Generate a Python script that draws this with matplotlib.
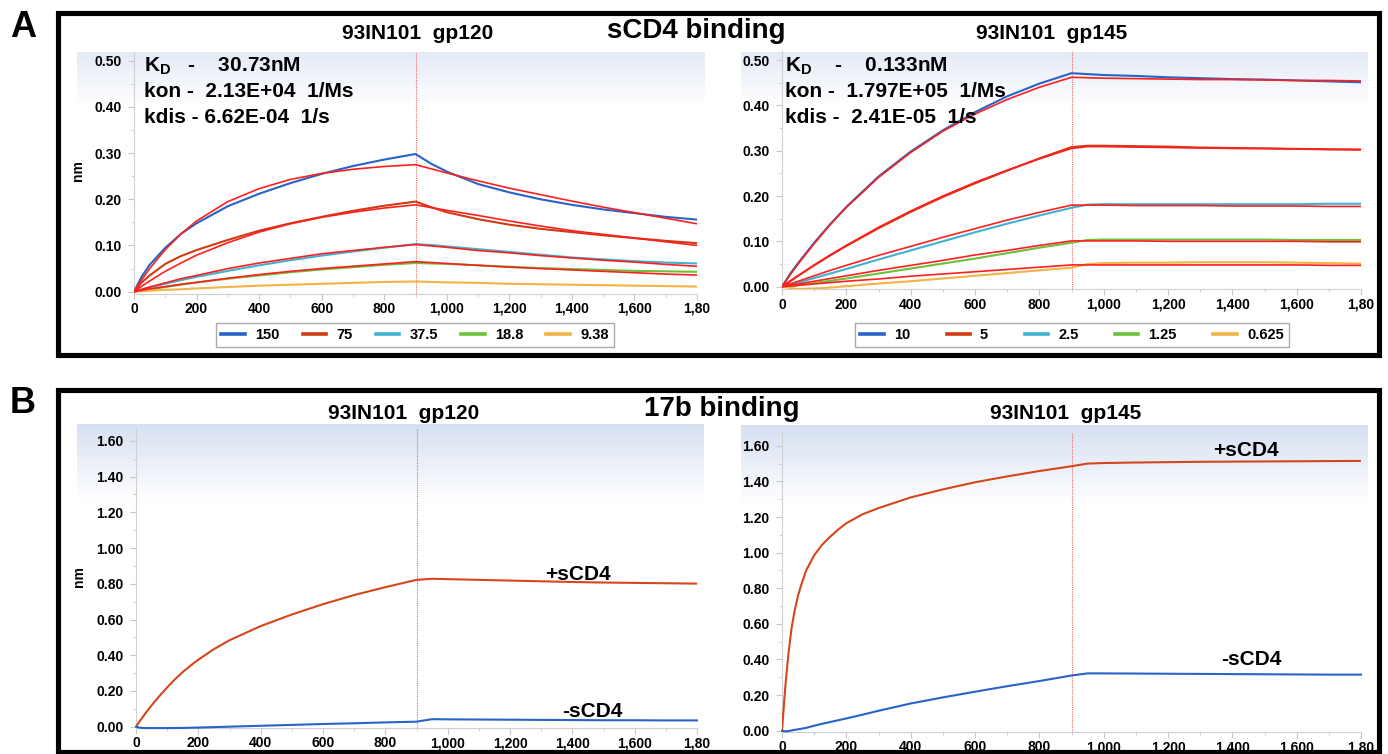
import numpy as np
import matplotlib
import matplotlib.pyplot as plt
from matplotlib.patches import Rectangle

W, H = 1388, 754

plt.rcParams['font.family'] = ['Liberation Sans', 'DejaVu Sans']
plt.rcParams['font.weight'] = 'bold'
plt.rcParams['axes.labelweight'] = 'bold'
plt.rcParams['mathtext.fontset'] = 'custom'
plt.rcParams['mathtext.rm'] = 'Liberation Sans:bold'
plt.rcParams['mathtext.bf'] = 'Liberation Sans:bold'

# ---- data ----

# time points, s
t = [0, 25, 50, 100, 150, 200, 300, 400, 500, 600, 700, 800, 900,
     950, 1000, 1100, 1200, 1300, 1400, 1500, 1600, 1700, 1800]
t_fast = [0, 5, 10, 15, 20, 30, 40, 50, 60, 75, 100, 125, 150, 175, 200, 250, 300, 400, 500, 600, 700,
          800, 900, 950, 1000, 1100, 1200, 1300, 1400, 1500, 1600, 1700, 1800]

xtick_values = [0, 200, 400, 600, 800, 1000, 1200, 1400, 1600, 1800]
xtick_labels = ['0', '200', '400', '600', '800', '1,000', '1,200', '1,400', '1,600', '1,80']
ytick_top = [0.0, 0.1, 0.2, 0.3, 0.4, 0.5]
ytick_top_labels = ['0.00', '0.10', '0.20', '0.30', '0.40', '0.50']
ytick_bottom = [0.0, 0.2, 0.4, 0.6, 0.8, 1.0, 1.2, 1.4, 1.6]
ytick_bottom_labels = ['0.00', '0.20', '0.40', '0.60', '0.80', '1.00', '1.20', '1.40', '1.60']

# A: sCD4 binding to gp120, concentrations nM
gp120_conc = ['150', '75', '37.5', '18.8', '9.38']
gp120_150 = [0, 0.033, 0.058, 0.095, 0.125, 0.148, 0.185, 0.212, 0.235, 0.255, 0.272, 0.286, 0.298,
             0.277, 0.260, 0.233, 0.215, 0.200, 0.188, 0.178, 0.170, 0.162, 0.156]
gp120_75 = [0, 0.020, 0.035, 0.060, 0.077, 0.090, 0.112, 0.132, 0.148, 0.162, 0.175, 0.186, 0.195,
            0.183, 0.172, 0.157, 0.145, 0.136, 0.129, 0.122, 0.116, 0.110, 0.105]
gp120_37 = [0, 0.005, 0.009, 0.017, 0.025, 0.032, 0.045, 0.057, 0.068, 0.078, 0.087, 0.095, 0.103,
            0.101, 0.098, 0.092, 0.086, 0.080, 0.074, 0.070, 0.066, 0.063, 0.061]
gp120_18 = [0, 0.003, 0.005, 0.010, 0.015, 0.020, 0.028, 0.035, 0.042, 0.048, 0.053, 0.058, 0.062,
            0.061, 0.060, 0.057, 0.054, 0.051, 0.049, 0.047, 0.045, 0.044, 0.043]
gp120_9 = [0, 0.001, 0.002, 0.004, 0.005, 0.007, 0.010, 0.013, 0.015, 0.017, 0.019, 0.021, 0.022,
           0.021, 0.020, 0.019, 0.017, 0.016, 0.015, 0.014, 0.013, 0.012, 0.011]
gp120_fit_150 = [0, 0.026, 0.050, 0.091, 0.125, 0.153, 0.195, 0.223, 0.243, 0.256, 0.265, 0.271, 0.275,
                 0.266, 0.257, 0.240, 0.224, 0.210, 0.196, 0.183, 0.171, 0.159, 0.147]
gp120_fit_75 = [0, 0.012, 0.023, 0.044, 0.062, 0.079, 0.106, 0.129, 0.147, 0.161, 0.172, 0.181, 0.188,
                0.182, 0.176, 0.165, 0.153, 0.142, 0.132, 0.124, 0.116, 0.108, 0.100]
gp120_fit_37 = [0, 0.005, 0.010, 0.019, 0.028, 0.035, 0.050, 0.062, 0.072, 0.082, 0.089, 0.096, 0.102,
                0.099, 0.096, 0.089, 0.084, 0.078, 0.073, 0.068, 0.064, 0.059, 0.055]
gp120_fit_18 = [0, 0.003, 0.006, 0.011, 0.016, 0.020, 0.029, 0.037, 0.044, 0.050, 0.055, 0.060, 0.065,
                0.063, 0.061, 0.057, 0.053, 0.050, 0.047, 0.044, 0.041, 0.038, 0.036]

# A: sCD4 binding to gp145
gp145_conc = ['10', '5', '2.5', '1.25', '0.625']
gp145_10 = [0, 0.028, 0.052, 0.097, 0.138, 0.176, 0.243, 0.298, 0.345, 0.385, 0.420, 0.448, 0.471,
            0.469, 0.467, 0.465, 0.462, 0.460, 0.458, 0.457, 0.455, 0.453, 0.451]
gp145_5 = [0, 0.012, 0.024, 0.047, 0.069, 0.090, 0.129, 0.165, 0.198, 0.228, 0.256, 0.283, 0.308,
           0.311, 0.311, 0.310, 0.309, 0.307, 0.306, 0.305, 0.304, 0.303, 0.302]
gp145_2 = [0, 0.004, 0.009, 0.019, 0.029, 0.039, 0.060, 0.080, 0.100, 0.120, 0.139, 0.157, 0.174,
           0.181, 0.182, 0.182, 0.182, 0.182, 0.182, 0.182, 0.182, 0.183, 0.183]
gp145_1 = [0, 0.001, 0.003, 0.008, 0.013, 0.018, 0.029, 0.040, 0.051, 0.062, 0.074, 0.086, 0.097,
           0.103, 0.104, 0.104, 0.104, 0.104, 0.104, 0.104, 0.103, 0.103, 0.103]
gp145_06 = [0, -0.003, -0.005, -0.004, -0.002, 0.001, 0.007, 0.012, 0.018, 0.024, 0.030, 0.036, 0.042,
            0.050, 0.052, 0.053, 0.053, 0.054, 0.054, 0.054, 0.053, 0.052, 0.051]
gp145_fit_10 = [0, 0.026, 0.050, 0.095, 0.137, 0.175, 0.241, 0.296, 0.343, 0.381, 0.413, 0.440, 0.462,
                0.461, 0.460, 0.459, 0.458, 0.457, 0.457, 0.456, 0.455, 0.455, 0.454]
gp145_fit_5 = [0, 0.012, 0.024, 0.048, 0.070, 0.091, 0.131, 0.167, 0.200, 0.230, 0.257, 0.282, 0.305,
               0.309, 0.309, 0.308, 0.307, 0.306, 0.305, 0.305, 0.304, 0.303, 0.303]
gp145_fit_2 = [0, 0.006, 0.012, 0.024, 0.036, 0.047, 0.069, 0.089, 0.109, 0.128, 0.147, 0.164, 0.180,
               0.180, 0.180, 0.179, 0.179, 0.179, 0.178, 0.178, 0.178, 0.177, 0.177]
gp145_fit_1 = [0, 0.003, 0.006, 0.012, 0.018, 0.024, 0.036, 0.047, 0.058, 0.070, 0.080, 0.091, 0.101,
               0.101, 0.101, 0.101, 0.100, 0.100, 0.100, 0.100, 0.100, 0.099, 0.099]
gp145_fit_06 = [0, 0.0015, 0.003, 0.006, 0.009, 0.012, 0.017, 0.023, 0.028, 0.033, 0.038, 0.043, 0.048,
                0.048, 0.048, 0.048, 0.048, 0.048, 0.048, 0.048, 0.048, 0.047, 0.047]

# B: 17b binding with / without sCD4 (on t_fast)
gp120_plus = [0, 0.013, 0.026, 0.038, 0.050, 0.074, 0.097, 0.119, 0.140, 0.171, 0.220, 0.265, 0.306,
              0.342, 0.375, 0.434, 0.484, 0.563, 0.628, 0.686, 0.737, 0.781, 0.822,
              0.828, 0.826, 0.822, 0.818, 0.814, 0.810, 0.807, 0.805, 0.803, 0.801]
gp120_minus = [0, -0.003, -0.005, -0.006, -0.007, -0.008, -0.008, -0.008, -0.008, -0.008, -0.008, -0.0075,
               -0.007, -0.006, -0.005, -0.0025, 0.000, 0.005, 0.010, 0.015, 0.019, 0.024, 0.028,
               0.042, 0.041, 0.040, 0.039, 0.038, 0.037, 0.036, 0.036, 0.035, 0.035]
gp145_plus = [0, 0.12, 0.24, 0.34, 0.43, 0.58, 0.68, 0.76, 0.82, 0.90, 0.985, 1.045, 1.09, 1.13, 1.165,
              1.215, 1.25, 1.31, 1.355, 1.395, 1.428, 1.458, 1.485,
              1.500, 1.503, 1.506, 1.508, 1.510, 1.511, 1.512, 1.513, 1.514, 1.515]
gp145_minus = [0, -0.002, -0.003, -0.003, -0.002, 0.002, 0.005, 0.008, 0.011, 0.016, 0.028, 0.039, 0.049,
               0.059, 0.069, 0.090, 0.112, 0.153, 0.187, 0.219, 0.250, 0.279, 0.310,
               0.322, 0.322, 0.321, 0.320, 0.319, 0.318, 0.317, 0.316, 0.315, 0.315]

# colours
c_blue = '#2763c8'
c_red = '#cf3b12'
c_cyan = '#3fb2d2'
c_green = '#6cc13a'
c_orange = '#f2b347'
c_fit = '#ff1f1f'
c_plus = '#d5461b'

fig = plt.figure(figsize=(W / 100, H / 100), dpi=100)


def fx(x):
    return x / W


def fy(y):
    return 1 - y / H


def px_rect(l, t_, r, b):
    return [l / W, 1 - b / H, (r - l) / W, (b - t_) / H]


def gradient_bg(l, t_, r, b, top_color, fade):
    bg = fig.add_axes(px_rect(l, t_, r, b), zorder=0)
    bg.set_axis_off()
    s = np.clip(np.linspace(0, 1, 300) / fade, 0, 1)
    c0 = np.array(matplotlib.colors.to_rgb(top_color))
    img = c0[None, :] * (1 - s[:, None]) + s[:, None]
    bg.imshow(img[:, None, :], aspect='auto', extent=(0, 1, 0, 1), origin='upper')


def make_axes(rect, ylim, yticks, yticklabels, yminor):
    ax = fig.add_axes(rect, zorder=2)
    ax.patch.set_alpha(0)
    ax.set_xlim(0, 1800)
    ax.set_ylim(*ylim)
    ax.set_xticks(xtick_values)
    ax.set_xticklabels(xtick_labels)
    ax.set_xticks(np.arange(100, 1800, 200), minor=True)
    ax.set_yticks(yticks)
    ax.set_yticklabels(yticklabels)
    ax.set_yticks(yminor, minor=True)
    for s in ['top', 'right']:
        ax.spines[s].set_visible(False)
    for s in ['left', 'bottom']:
        ax.spines[s].set_color('#d0d0d0')
    ax.tick_params(which='both', colors='#c8c8c8', labelcolor='black', labelsize=10)
    ax.tick_params(axis='x', which='major', length=4, pad=2)
    ax.tick_params(axis='y', which='major', length=4, pad=5)
    ax.tick_params(which='minor', length=2)
    ax.axvline(900, color='#e86a6a', lw=0.8, ls=(0, (1, 1)), zorder=1)
    return ax


# ---- panel frames and letters ----
fig.patches.append(Rectangle((fx(57.5), fy(355.5)), fx(1379) - fx(57.5), fy(12.5) - fy(355.5),
                             transform=fig.transFigure, fill=False, lw=3.7, ec='black'))
fig.patches.append(Rectangle((fx(57.5), fy(752)), fx(1379) - fx(57.5), fy(389.5) - fy(752),
                             transform=fig.transFigure, fill=False, lw=3.7, ec='black'))
fig.text(fx(10), fy(37), 'A', fontsize=26, ha='left', va='baseline')
fig.text(fx(10), fy(413), 'B', fontsize=26, ha='left', va='baseline')

# ---- backgrounds ----
gradient_bg(77, 52, 705, 300, '#e3eaf5', 0.22)
gradient_bg(741, 52, 1368, 300, '#e3eaf5', 0.22)
gradient_bg(77, 424, 704, 735, '#d6e0f1', 0.25)
gradient_bg(741, 425, 1368, 738, '#d6e0f1', 0.25)

# ---- A left: gp120 ----
ax1 = make_axes(px_rect(134, 51.5, 697, 293.5), (-0.004, 0.52), ytick_top, ytick_top_labels,
                np.arange(0.05, 0.5, 0.1))
for y, c, lab in zip([gp120_150, gp120_75, gp120_37, gp120_18, gp120_9],
                     [c_blue, c_red, c_cyan, c_green, c_orange], gp120_conc):
    ax1.plot(t, y, color=c, lw=1.5, label=lab, zorder=3)
for y in [gp120_fit_150, gp120_fit_75, gp120_fit_37, gp120_fit_18]:
    ax1.plot(t, y, color=c_fit, lw=1.2, zorder=4)
ax1.set_ylabel('nm', fontsize=10)
ax1.yaxis.set_label_coords(fx(85), fy(171), transform=fig.transFigure)
leg1 = ax1.legend(ncol=5, loc='center', bbox_to_anchor=(fx(415), fy(335)), bbox_transform=fig.transFigure,
                  fancybox=False, edgecolor='#aaaaaa', fontsize=10.5, handlelength=1.6,
                  handletextpad=0.7, columnspacing=1.6, borderpad=0.35, framealpha=1)
for h in leg1.get_lines():
    h.set_linewidth(2.6)

# ---- A right: gp145 ----
ax2 = make_axes(px_rect(782, 51, 1361, 289.4), (-0.006, 0.52), ytick_top, ytick_top_labels,
                np.arange(0.05, 0.5, 0.1))
for y, c, lab in zip([gp145_10, gp145_5, gp145_2, gp145_1, gp145_06],
                     [c_blue, c_red, c_cyan, c_green, c_orange], gp145_conc):
    ax2.plot(t, y, color=c, lw=1.5, label=lab, zorder=3)
for y in [gp145_fit_10, gp145_fit_5, gp145_fit_2, gp145_fit_1, gp145_fit_06]:
    ax2.plot(t, y, color=c_fit, lw=1.2, zorder=4)
leg2 = ax2.legend(ncol=5, loc='center', bbox_to_anchor=(fx(1072), fy(335)), bbox_transform=fig.transFigure,
                  fancybox=False, edgecolor='#aaaaaa', fontsize=10.5, handlelength=1.6,
                  handletextpad=0.7, columnspacing=2.5, borderpad=0.35, framealpha=1)
for h in leg2.get_lines():
    h.set_linewidth(2.6)

# kinetic constants
fig.text(fx(144), fy(71), r'K$_\mathbf{D}$   -    30.73nM', fontsize=15, va='baseline')
fig.text(fx(144), fy(97), 'kon -  2.13E+04  1/Ms', fontsize=15, va='baseline')
fig.text(fx(144), fy(123), 'kdis - 6.62E-04  1/s', fontsize=15, va='baseline')
fig.text(fx(785), fy(71), r'K$_\mathbf{D}$    -    0.133nM', fontsize=15, va='baseline')
fig.text(fx(785), fy(97), 'kon -  1.797E+05  1/Ms', fontsize=15, va='baseline')
fig.text(fx(785), fy(123), 'kdis -  2.41E-05  1/s', fontsize=15, va='baseline')

fig.text(fx(418), fy(39), '93IN101  gp120', fontsize=15, ha='center', va='baseline')
fig.text(fx(1052), fy(39), '93IN101  gp145', fontsize=15, ha='center', va='baseline')
fig.text(fx(696), fy(38), 'sCD4 binding', fontsize=20, ha='center', va='baseline')

# ---- B left: gp120 17b ----
ax3 = make_axes(px_rect(136, 428.4, 697, 728.1), (-0.008, 1.67), ytick_bottom, ytick_bottom_labels,
                np.arange(0.1, 1.7, 0.2))
ax3.plot(t_fast, gp120_plus, color=c_plus, lw=1.5, zorder=3)
ax3.plot(t_fast, gp120_minus, color=c_blue, lw=1.5, zorder=3, clip_on=False)
ax3.set_ylabel('nm', fontsize=10)
ax3.yaxis.set_label_coords(fx(86), fy(577), transform=fig.transFigure)
fig.text(fx(578), fy(580), '+sCD4', fontsize=15, ha='center', va='baseline')
fig.text(fx(592), fy(717), '-sCD4', fontsize=15, ha='center', va='baseline')

# ---- B right: gp145 17b ----
ax4 = make_axes(px_rect(782, 432.4, 1361, 731.8), (-0.006, 1.675), ytick_bottom, ytick_bottom_labels,
                np.arange(0.1, 1.7, 0.2))
ax4.plot(t_fast, gp145_plus, color=c_plus, lw=1.5, zorder=3)
ax4.plot(t_fast, gp145_minus, color=c_blue, lw=1.5, zorder=3, clip_on=False)
fig.text(fx(1246), fy(456), '+sCD4', fontsize=15, ha='center', va='baseline')
fig.text(fx(1251), fy(665), '-sCD4', fontsize=15, ha='center', va='baseline')

fig.text(fx(404), fy(419), '93IN101  gp120', fontsize=15, ha='center', va='baseline')
fig.text(fx(1066), fy(419), '93IN101  gp145', fontsize=15, ha='center', va='baseline')
fig.text(fx(722), fy(416), '17b binding', fontsize=20, ha='center', va='baseline')

fig.savefig('out.png', dpi=100)
